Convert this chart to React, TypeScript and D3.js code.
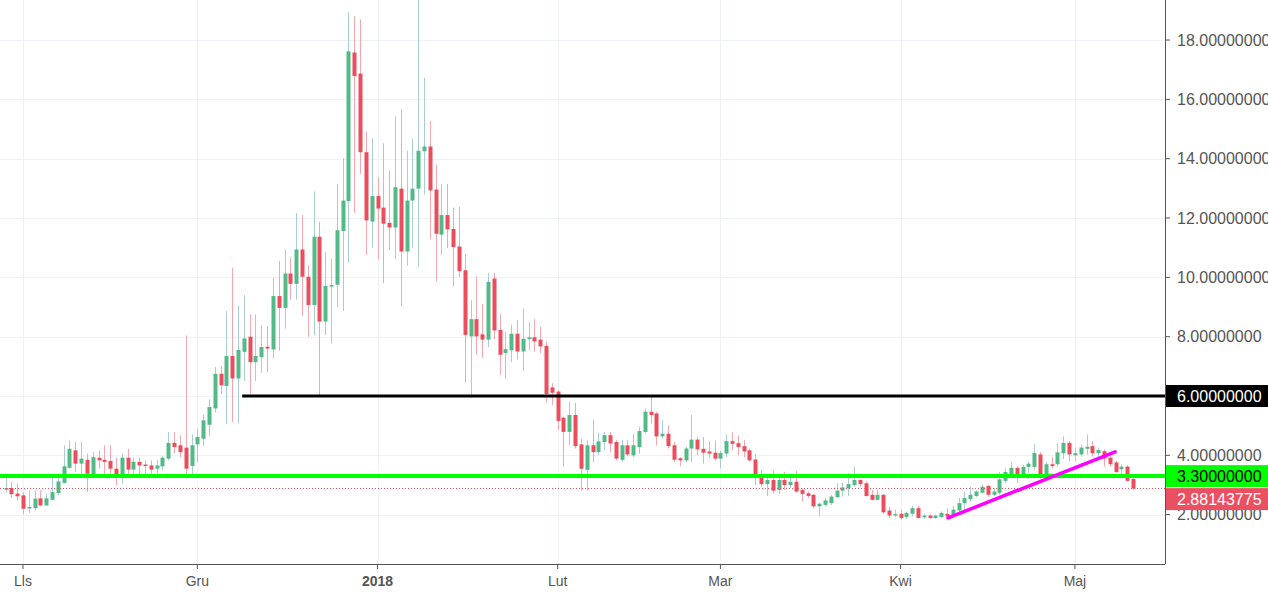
import React from "react";
import * as d3 from "d3";

// daily candles, first one on 29 Oct 2017
const firstDay = new Date(2017, 9, 29);

const opens = [
  2.84, 2.9, 2.71, 2.65, 2.22, 2.22, 2.55, 2.31, 2.5, 2.73, 3.07, 3.58, 4.17, 3.72, 3.85, 3.36, 3.92, 3.85, 3.81, 3.55,
  3.33, 3.92, 3.52, 3.78, 3.69, 3.66, 3.55, 3.63, 3.89, 4.42, 4.34, 4.26, 3.64, 4.37, 4.56, 5.03, 5.58, 6.75, 6.34, 7.35,
  6.59, 7.49, 8.0, 7.14, 7.31, 7.66, 7.57, 9.37, 8.97, 10.13, 9.78, 10.94, 10.02, 9.07, 11.37, 8.51, 9.71, 9.75, 11.56, 12.57,
  17.58, 16.87, 14.22, 11.88, 12.74, 12.35, 11.84, 11.68, 12.99, 10.87, 12.59, 12.99, 14.25, 14.41, 12.96, 11.44, 12.1, 11.63, 11.04, 10.24,
  8.01, 8.59, 8.08, 7.9, 9.96, 8.23, 7.45, 7.54, 8.1, 7.5, 7.92, 7.98, 7.9, 7.69, 6.29, 6.15, 5.27, 4.79, 5.36, 4.37,
  3.51, 4.34, 4.11, 4.45, 4.68, 4.45, 3.85, 4.34, 4.0, 4.28, 4.79, 5.47, 5.41, 4.64, 4.73, 4.34, 3.9, 3.83, 4.23, 4.53,
  4.22, 4.13, 4.09, 3.89, 4.06, 4.48, 4.41, 4.31, 4.17, 3.86, 3.37, 3.03, 3.17, 2.83, 3.17, 3.0, 3.11, 2.83, 2.72, 2.67,
  2.28, 2.33, 2.39, 2.59, 2.81, 2.89, 3.0, 3.17, 3.06, 2.67, 2.5, 2.67, 2.14, 1.98, 2.03, 1.92, 2.03, 2.22, 1.91, 1.97,
  1.89, 1.92, 2.03, 2.0, 2.14, 2.39, 2.52, 2.63, 2.74, 2.97, 2.67, 2.74, 3.14, 3.37, 3.58, 3.33, 3.61, 3.61, 4.03, 3.33,
  3.7, 3.7, 4.07, 4.42, 4.0, 4.03, 4.22, 4.31, 4.07, 4.14, 3.92, 3.76, 3.53, 3.62, 3.2,
];
const highs = [
  3.23, 3.1, 3.05, 2.76, 2.82, 2.82, 2.82, 2.7, 3.25, 3.38, 4.34, 4.5, 4.45, 4.45, 4.06, 4.11, 4.15, 4.34, 4.34, 3.92,
  4.06, 4.22, 3.92, 3.92, 3.83, 3.83, 3.85, 3.97, 4.79, 4.79, 4.67, 8.04, 4.71, 4.9, 5.38, 5.89, 6.98, 7.01, 8.86, 10.32,
  9.05, 9.4, 8.75, 8.75, 8.38, 8.36, 9.98, 10.55, 10.94, 10.66, 12.17, 12.1, 10.41, 12.9, 11.87, 10.86, 10.62, 13.15, 14.02, 18.94,
  18.8, 18.69, 14.92, 14.69, 13.37, 14.52, 13.6, 15.42, 15.68, 14.27, 14.67, 19.6, 16.73, 15.27, 13.8, 13.14, 13.15, 12.35, 12.38, 10.79,
  9.23, 10.04, 9.1, 10.15, 10.15, 8.76, 8.17, 8.4, 8.56, 8.95, 8.5, 8.59, 8.34, 7.84, 6.43, 6.2, 5.3, 5.81, 5.77, 4.56,
  4.51, 5.19, 4.76, 4.79, 4.79, 4.51, 4.51, 4.51, 4.73, 4.96, 5.58, 6.0, 5.47, 5.19, 5.02, 4.45, 3.94, 4.28, 5.36, 4.62,
  4.62, 4.48, 4.5, 4.17, 4.7, 4.78, 4.67, 4.52, 4.22, 4.06, 3.52, 3.33, 3.5, 3.33, 3.44, 3.33, 3.48, 2.89, 2.78, 2.7,
  2.41, 2.56, 2.67, 3.06, 3.08, 3.41, 3.61, 3.19, 3.11, 2.83, 2.83, 2.7, 2.26, 2.17, 2.17, 2.11, 2.3, 2.3, 2.03, 2.0,
  2.0, 2.11, 2.22, 2.3, 2.56, 2.78, 2.94, 2.83, 3.0, 3.0, 2.89, 3.44, 3.56, 3.78, 3.63, 3.67, 3.78, 4.37, 4.11, 3.78,
  3.94, 4.4, 4.64, 4.48, 4.26, 4.37, 4.7, 4.48, 4.26, 4.2, 4.03, 3.81, 3.7, 3.67, 3.26,
];
const lows = [
  2.74, 2.57, 2.48, 2.01, 2.06, 2.15, 2.28, 2.31, 2.48, 2.65, 3.05, 3.55, 3.44, 3.38, 2.76, 3.27, 3.55, 3.33, 3.27, 2.99,
  3.04, 3.33, 3.33, 3.38, 3.33, 3.38, 3.38, 3.49, 3.83, 4.06, 3.94, 3.31, 3.25, 3.76, 4.32, 4.65, 5.44, 6.06, 5.05, 5.12,
  5.08, 6.5, 6.06, 6.5, 6.79, 6.81, 7.26, 7.52, 8.27, 9.25, 9.25, 8.7, 8.0, 8.05, 5.99, 8.05, 7.77, 8.99, 8.86, 10.5,
  12.18, 13.49, 10.76, 11.0, 10.61, 9.8, 10.92, 10.61, 9.02, 10.39, 11.0, 10.36, 12.79, 11.28, 9.86, 10.75, 10.99, 9.7, 10.01, 6.45,
  5.94, 7.39, 7.28, 7.65, 7.92, 6.72, 6.58, 7.14, 7.23, 6.84, 7.56, 7.5, 7.45, 5.78, 5.7, 4.85, 3.63, 4.34, 4.23, 2.81,
  2.81, 3.77, 4.0, 4.17, 4.11, 3.83, 3.77, 3.97, 3.94, 4.06, 4.73, 5.07, 4.34, 4.56, 4.23, 3.77, 3.63, 3.77, 3.77, 4.0,
  3.72, 3.92, 3.83, 3.56, 3.94, 4.17, 4.0, 3.94, 3.78, 3.0, 2.94, 2.63, 2.72, 2.7, 2.83, 2.89, 2.74, 2.44, 2.56, 2.22,
  1.94, 2.28, 2.33, 2.56, 2.61, 2.63, 2.94, 2.94, 2.61, 2.48, 2.48, 2.03, 1.89, 1.92, 1.83, 1.86, 1.94, 1.86, 1.86, 1.86,
  1.86, 1.89, 1.89, 1.92, 2.08, 2.11, 2.44, 2.59, 2.72, 2.61, 2.63, 2.67, 3.06, 3.3, 3.08, 3.26, 3.39, 3.5, 3.22, 3.28,
  3.56, 3.62, 3.87, 3.81, 3.81, 3.96, 4.03, 3.96, 3.92, 3.62, 3.62, 3.4, 3.29, 3.11, 2.84,
];
const closes = [
  2.9, 2.69, 2.62, 2.2, 2.26, 2.54, 2.31, 2.55, 2.76, 3.12, 3.63, 4.22, 3.72, 3.89, 3.38, 3.94, 3.83, 3.78, 3.55, 3.33,
  3.92, 3.52, 3.78, 3.66, 3.64, 3.52, 3.66, 3.92, 4.42, 4.28, 4.11, 3.55, 4.34, 4.62, 5.18, 5.63, 6.75, 6.36, 7.35, 6.59,
  7.55, 7.94, 7.14, 7.35, 7.65, 7.6, 9.37, 8.97, 10.13, 9.78, 10.94, 10.02, 9.07, 11.37, 8.51, 9.71, 9.74, 11.59, 12.59, 17.62,
  16.79, 14.22, 11.92, 12.74, 12.32, 11.81, 11.68, 13.04, 10.87, 12.59, 12.99, 14.27, 14.41, 12.93, 11.47, 12.1, 11.62, 11.02, 10.21, 8.06,
  8.59, 8.01, 7.9, 9.85, 8.21, 7.39, 7.58, 8.1, 7.5, 7.93, 7.98, 7.84, 7.67, 6.07, 6.11, 5.16, 4.79, 5.36, 4.31, 3.55,
  4.34, 4.11, 4.47, 4.68, 4.4, 3.89, 4.34, 4.03, 4.34, 4.82, 5.47, 5.36, 4.64, 4.73, 4.31, 3.85, 3.83, 4.23, 4.53, 4.2,
  4.09, 4.06, 3.89, 4.08, 4.48, 4.39, 4.28, 4.13, 3.83, 3.33, 3.03, 3.17, 2.81, 3.17, 3.0, 3.11, 2.78, 2.7, 2.63, 2.28,
  2.37, 2.48, 2.61, 2.81, 2.92, 3.03, 3.17, 3.03, 2.63, 2.5, 2.67, 2.08, 1.97, 2.02, 1.89, 2.06, 2.22, 1.89, 1.97, 1.89,
  1.97, 2.06, 1.94, 2.17, 2.39, 2.56, 2.67, 2.78, 2.94, 2.67, 2.78, 3.19, 3.44, 3.58, 3.33, 3.61, 3.72, 4.08, 3.33, 3.7,
  3.64, 4.1, 4.42, 4.03, 4.07, 4.26, 4.29, 4.07, 4.18, 3.89, 3.7, 3.44, 3.62, 3.14, 2.88,
];

const lastPrice = 2.88143775;
const resistance = 6.0;
const support = 3.3;
// hand-drawn lines on the chart
const resistanceStart = new Date(2017, 11, 8, 17);
const trendDates = [new Date(2018, 3, 9, 4), new Date(2018, 4, 7, 22)];
const trendValues = [1.89, 4.12];

const yTicks = [2, 4, 6, 8, 10, 12, 14, 16, 18];
const monthTicks = [
  { date: new Date(2017, 10, 1), label: "Lls" },
  { date: new Date(2017, 11, 1), label: "Gru" },
  { date: new Date(2018, 0, 1), label: "2018" },
  { date: new Date(2018, 1, 1), label: "Lut" },
  { date: new Date(2018, 2, 1), label: "Mar" },
  { date: new Date(2018, 3, 1), label: "Kwi" },
  { date: new Date(2018, 4, 1), label: "Maj" },
];

const W = 1268;
const H = 594;
const plotR = 1165;
const plotB = 564;

const upBody = "#53b987";
const downBody = "#eb4d5c";
const upWick = "#a9cdd3";
const downWick = "#f5a6ae";
const font = "'Liberation Sans', Arial, sans-serif";

export default function App() {
  const x = d3
    .scaleTime()
    .domain([new Date(2017, 9, 28, 1), new Date(2018, 4, 16, 12)])
    .range([0, plotR]);
  const y = d3.scaleLinear().domain([0, 19.35]).range([574, 0]);

  const candles = closes.map((c, i) => ({
    date: d3.timeDay.offset(firstDay, i),
    o: opens[i],
    h: highs[i],
    l: lows[i],
    c,
  }));
  const bw = 4;

  const trend = d3
    .line<number>()
    .x((_, i) => x(trendDates[i]))
    .y((v) => y(v));

  const greenY = y(support);
  const redY = Math.max(y(lastPrice), greenY + 23);

  return (
    <svg
      width={W}
      height={H}
      style={{ position: "absolute", left: 0, top: 0, background: "#fff" }}
      fontFamily={font}
    >
      <defs>
        <clipPath id="plot">
          <rect x={0} y={0} width={plotR} height={plotB} />
        </clipPath>
      </defs>

      {/* grid */}
      <g stroke="#eef2f6" strokeWidth={1}>
        {yTicks.map((t) => (
          <line key={t} x1={0} x2={plotR} y1={Math.round(y(t)) + 0.5} y2={Math.round(y(t)) + 0.5} />
        ))}
        {monthTicks.map((m) => (
          <line key={m.label} x1={Math.round(x(m.date)) + 0.5} x2={Math.round(x(m.date)) + 0.5} y1={0} y2={plotB} />
        ))}
      </g>

      <g clipPath="url(#plot)">
        {candles.map((d, i) => {
          const up = d.c >= d.o;
          const cx = Math.round(x(d.date)) + 0.5;
          const top = y(Math.max(d.o, d.c));
          const bot = y(Math.min(d.o, d.c));
          return (
            <g key={i}>
              <line x1={cx} x2={cx} y1={y(d.h)} y2={y(d.l)} stroke={up ? upWick : downWick} strokeWidth={1} />
              <rect
                x={cx - bw / 2}
                y={top}
                width={bw}
                height={Math.max(1.5, bot - top)}
                fill={up ? upBody : downBody}
              />
            </g>
          );
        })}

        {/* last price dotted line */}
        <line
          x1={0}
          x2={plotR}
          y1={y(lastPrice)}
          y2={y(lastPrice)}
          stroke={downBody}
          strokeWidth={1}
          strokeDasharray="1,2"
        />
        {/* support */}
        <line x1={0} x2={plotR} y1={greenY} y2={greenY} stroke="#00ff00" strokeWidth={4} />
        {/* resistance */}
        <line
          x1={x(resistanceStart)}
          x2={plotR}
          y1={y(resistance)}
          y2={y(resistance)}
          stroke="#000"
          strokeWidth={3}
        />
        {/* trend line */}
        <path d={trend(trendValues) || ""} stroke="#ff00ff" strokeWidth={3.5} fill="none" strokeLinecap="round" />
      </g>

      {/* axes */}
      <line x1={plotR + 0.5} x2={plotR + 0.5} y1={0} y2={plotB} stroke="#555" strokeWidth={1} />
      <line x1={0} x2={plotR} y1={plotB + 0.5} y2={plotB + 0.5} stroke="#555" strokeWidth={1} />

      <g fill="#555" fontSize={16}>
        {yTicks.map((t) => (
          <g key={t}>
            <line x1={plotR} x2={plotR + 5} y1={y(t)} y2={y(t)} stroke="#555" />
            <text x={plotR + 12} y={y(t)} dy="0.36em">
              {t.toFixed(8)}
            </text>
          </g>
        ))}
      </g>

      <g fill="#555" fontSize={14}>
        {monthTicks.map((m) => (
          <g key={m.label}>
            <line x1={x(m.date)} x2={x(m.date)} y1={plotB} y2={plotB + 5} stroke="#555" />
            <text x={x(m.date)} y={586} textAnchor="middle" fontWeight={m.label === "2018" ? "bold" : "normal"}>
              {m.label}
            </text>
          </g>
        ))}
      </g>

      {/* price labels */}
      <g fontSize={16}>
        <rect x={plotR + 1} y={y(resistance) - 11} width={W - plotR} height={22} fill="#000" />
        <text x={plotR + 12} y={y(resistance)} dy="0.36em" fill="#fff">
          {resistance.toFixed(8)}
        </text>
        <rect x={plotR + 1} y={greenY - 11} width={W - plotR} height={22} fill="#00ff00" />
        <text x={plotR + 12} y={greenY} dy="0.36em" fill="#000">
          {support.toFixed(8)}
        </text>
        <rect x={plotR + 1} y={redY - 11} width={W - plotR} height={22} fill="#ea5061" />
        <text x={plotR + 12} y={redY} dy="0.36em" fill="#fff">
          {lastPrice.toFixed(8)}
        </text>
      </g>
    </svg>
  );
}
